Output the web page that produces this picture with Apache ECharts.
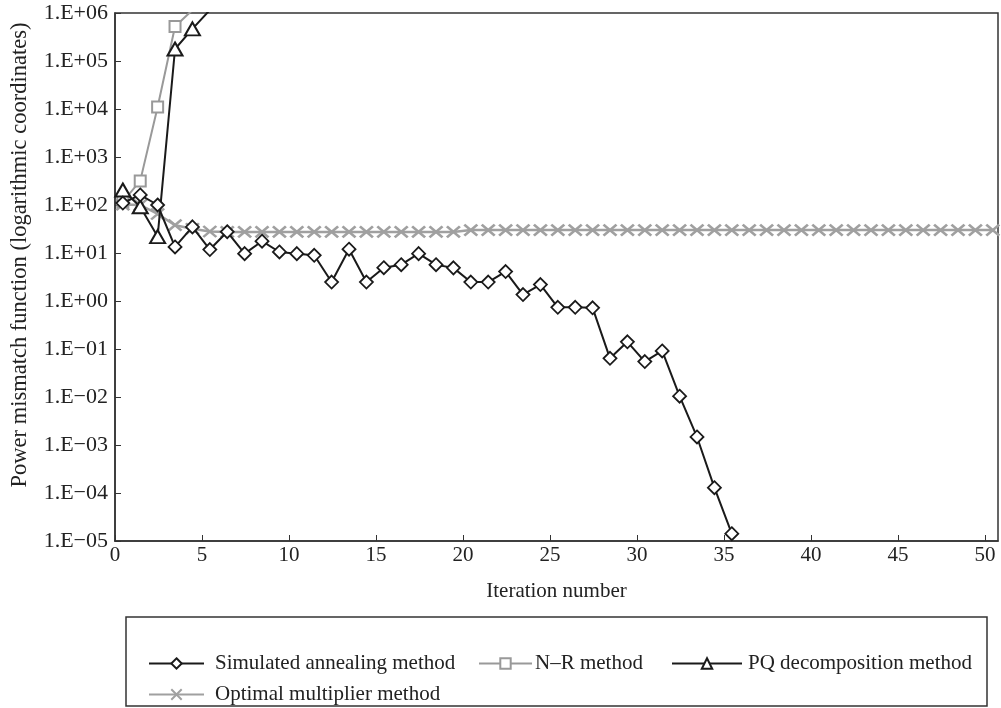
<!DOCTYPE html>
<html>
<head>
<meta charset="utf-8">
<script src="https://cdn.jsdelivr.net/npm/echarts@6/dist/echarts.min.js"></script>
<style>
html,body{margin:0;padding:0;background:#fff;}
#chart{width:1001px;height:708px;}
</style>
</head>
<body>
<div id="chart"></div>
<script>
// ---- data ----
const seriesNames = ['Simulated annealing method', 'N\u2013R method', 'PQ decomposition method', 'Optimal multiplier method'];
const xOffset = 0.45; // points sit mid-way in each iteration slot
const saValues = [110, 162, 100, 13.4, 35, 11.8, 27.7, 9.7, 17.6, 10.5,
  9.7, 8.95, 2.48, 12, 2.48, 4.94, 5.7, 9.7, 5.7, 4.9,
  2.48, 2.48, 4.1, 1.36, 2.2, 0.74, 0.74, 0.72, 0.064, 0.141,
  0.0547, 0.091, 0.0104, 0.00147, 0.000129, 0.0000142];
const nrValues = [118, 318, 11000, 525000, 1150000];
const pqValues = [205, 92, 22, 178000, 468000, 1150000];
const omValues = [102, 100, 65, 38, 32, 28, 27.5, 27.5, 27.5, 27.5,
  27.5, 27.5, 27.5, 27.5, 27.5, 27.5, 27.5, 27.5, 27.5, 27.5,
  30, 30, 30, 30, 30, 30, 30, 30, 30, 30,
  30, 30, 30, 30, 30, 30, 30, 30, 30, 30,
  30, 30, 30, 30, 30, 30, 30, 30, 30, 30, 30];
const xTicks = [0, 5, 10, 15, 20, 25, 30, 35, 40, 45, 50];
const yTickLabels = {
  '6': '1.E+06', '5': '1.E+05', '4': '1.E+04', '3': '1.E+03', '2': '1.E+02', '1': '1.E+01',
  '0': '1.E+00', '-1': '1.E\u221201', '-2': '1.E\u221202', '-3': '1.E\u221203', '-4': '1.E\u221204', '-5': '1.E\u221205'
};

const toPairs = arr => arr.map((v, i) => [i + xOffset, v]);
const FONT = "'Liberation Serif', 'Times New Roman', serif";
const TXT = '#222';

const chart = echarts.init(document.getElementById('chart'), null, {renderer: 'canvas'});
const xPath = 'path://M0,0L10,10M10,0L0,10';
const legendText = {fontFamily: FONT, fontSize: 21, color: TXT};

function mkLegend(name, left, top, w, gap) {
  return {data: [name], left: left, top: top, itemWidth: w, itemHeight: 13, itemGap: 0,
    textStyle: Object.assign({padding: [0, 0, 0, gap - 5]}, legendText)};
}

chart.setOption({
  animation: false,
  backgroundColor: '#fff',
  grid: {left: 115, right: 3, top: 13, bottom: 167, show: true, borderColor: '#333', borderWidth: 1.5, containLabel: false},
  xAxis: {
    type: 'value', min: 0, max: 50.75, interval: 5,
    name: 'Iteration number', nameLocation: 'middle', nameGap: 40,
    nameTextStyle: {fontFamily: FONT, fontSize: 21, color: TXT},
    axisLine: {lineStyle: {color: '#333', width: 1.5}},
    axisTick: {inside: true, length: 6, lineStyle: {color: '#333'}},
    axisLabel: {fontFamily: FONT, fontSize: 21, color: TXT, margin: 4, showMaxLabel: false,
      formatter: v => xTicks.indexOf(v) >= 0 ? String(v) : ''},
    splitLine: {show: false}
  },
  yAxis: {
    type: 'log', logBase: 10, min: 1e-5, max: 1e6, interval: 1, splitNumber: 11,
    axisLine: {lineStyle: {color: '#333', width: 1.5}},
    axisTick: {inside: true, length: 6, lineStyle: {color: '#333'}},
    axisLabel: {fontFamily: FONT, fontSize: 22, color: TXT, margin: 7,
      formatter: v => { const e = Math.round(Math.log10(v)); return yTickLabels[String(e)] || ''; }},
    splitLine: {show: false}
  },
  graphic: [
    {type: 'text', x: 20, y: 255, rotation: Math.PI / 2,
      style: {text: 'Power mismatch function (logarithmic coordinates)', font: '22.5px ' + FONT, fill: TXT, textAlign: 'center', textVerticalAlign: 'middle'}},
    {type: 'rect', shape: {x: 126, y: 617, width: 861, height: 89}, style: {fill: 'none', stroke: '#333', lineWidth: 1.5}, z: 0}
  ],
  legend: [
    mkLegend(seriesNames[0], 143, 648, 55, 11),
    mkLegend(seriesNames[1], 473, 648, 53, 3),
    mkLegend(seriesNames[2], 666, 648, 70, 6),
    mkLegend(seriesNames[3], 143, 679, 55, 11)
  ],
  series: [
    {name: seriesNames[3], type: 'line', data: toPairs(omValues), symbol: xPath, symbolSize: [13, 11], clip: true,
      lineStyle: {color: '#a0a0a0', width: 2.5}, itemStyle: {color: '#a0a0a0', borderColor: '#a0a0a0', borderWidth: 2.5}, z: 2},
    {name: seriesNames[1], type: 'line', data: toPairs(nrValues), symbol: 'rect', symbolSize: 11, clip: true,
      lineStyle: {color: '#999', width: 2}, itemStyle: {color: '#fff', borderColor: '#999', borderWidth: 2}, z: 3},
    {name: seriesNames[2], type: 'line', data: toPairs(pqValues), symbol: 'triangle', symbolSize: [15, 13], clip: true,
      lineStyle: {color: '#1a1a1a', width: 2}, itemStyle: {color: '#fff', borderColor: '#1a1a1a', borderWidth: 2}, z: 4},
    {name: seriesNames[0], type: 'line', data: toPairs(saValues), symbol: 'diamond', symbolSize: [13, 13], clip: true,
      lineStyle: {color: '#1a1a1a', width: 2}, itemStyle: {color: '#fff', borderColor: '#1a1a1a', borderWidth: 1.8}, z: 5}
  ]
});
</script>
</body>
</html>
